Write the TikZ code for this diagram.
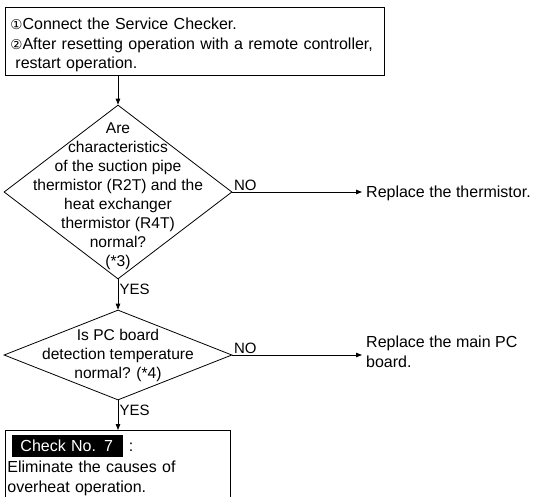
\documentclass[tikz,border=0pt]{standalone}
\usepackage{fontspec}
\setmainfont{Liberation Sans}
\newfontfamily\djv{DejaVu Sans}
\usetikzlibrary{shapes.geometric,arrows.meta,positioning}
\newcommand\circnum[1]{{\djv\fontsize{13.5}{13.5}\selectfont #1}}
\newcommand\chktag[1]{\hspace*{5pt}{\fboxsep=5pt\colorbox{black}{\hspace{3pt}\textcolor{white}{#1}\hspace{5pt}}}}

\begin{document}
\begin{tikzpicture}[x=1pt,y=-1pt,
    box/.style={rectangle,draw,line width=0.9pt,inner xsep=2pt,inner ysep=0pt,font=\fontsize{16}{19.6}\selectfont,align=left,anchor=north west},
    dia/.style={diamond,draw,line width=0.8pt,inner sep=0pt},
    qtxt/.style={font=\fontsize{15.6}{19}\selectfont,align=center,inner sep=0pt},
    lbl/.style={font=\fontsize{15}{15}\selectfont,inner sep=1.5pt},
    res/.style={font=\fontsize{16}{20}\selectfont,align=left,anchor=west,inner xsep=4pt,inner ysep=0pt},
    arr/.style={-{Triangle[length=6pt,width=4.5pt]},line width=0.8pt},
]
\useasboundingbox (0,0) rectangle (533,496);

% Start
\node[box,text width=375pt,minimum height=68pt] (start) at (5,7)
  {\rule{0pt}{19pt}\hspace*{3pt}\circnum{①}Connect the Service Checker.\\
   \hspace*{3pt}\circnum{②}After resetting operation with a remote controller,\\
   \hspace*{8pt}restart operation.};

% Thermistor check
\node[dia,minimum width=228pt,minimum height=174pt] (q1) at (118,192) {};
\node[qtxt] (q1txt) at (118,196) {Are\\characteristics\\of the suction pipe\\thermistor (R2T) and the\\heat exchanger\\thermistor (R4T)\\normal?\\(*3)};
\node[res] (rep1) at (362,193) {Replace the thermistor.};

% PC board check
\node[dia,minimum width=228pt,minimum height=90pt] (q2) at (118,355) {};
\node[qtxt] (q2txt) at (q2) {Is PC board\\detection temperature\\normal? (*4)};
\node[res] (rep2) at (362,352) {Replace the main PC\\board.};

% Result
\node[box,text width=221pt,minimum height=70pt,font=\fontsize{16}{20.5}\selectfont] (chk) at (5,430)
  {\chktag{Check No. 7}\hspace{6pt}:\\
   Eliminate the causes of\\
   overheat operation.};

% Labels
\node[lbl,anchor=south west] (no1) at (q1.east) {NO};
\node[lbl,anchor=south west] (no2) at (q2.east) {NO};
\node[lbl,anchor=north west] (yes1) at ([yshift=-3pt]q1.south) {YES};
\node[lbl,anchor=north west] (yes2) at ([yshift=-3pt]q2.south) {YES};

% Arrows
\draw[arr] (start.south -| q1) -- (q1.north);
\draw[arr] (q1.east) -- (q1.east -| rep1.west);
\draw[arr] (q1.south) -- (q2.north);
\draw[arr] (q2.east) -- (q2.east -| rep2.west);
\draw[arr] (q2.south) -- (q2.south |- chk.north);
\end{tikzpicture}
\end{document}
